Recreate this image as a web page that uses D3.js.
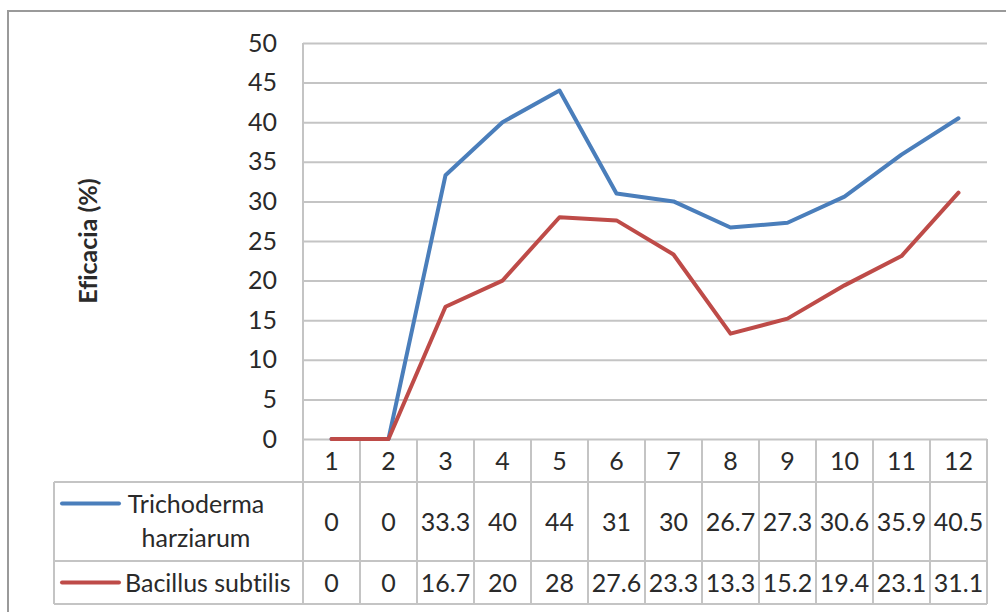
<!DOCTYPE html>
<html>
<head>
<meta charset="utf-8">
<script src="https://cdn.jsdelivr.net/npm/d3@7"></script>
<style>
  html, body { margin: 0; padding: 0; background: #fff; }
  svg { display: block; }
  text { font-family: Lato, "Open Sans", sans-serif; fill: #2a2a2a; font-variant-ligatures: none; }
</style>
</head>
<body>
<svg id="chart" width="1006" height="612"></svg>
<script>
// Months of observation and efficacy per treatment
const categories = ["1", "2", "3", "4", "5", "6", "7", "8", "9", "10", "11", "12"];
const trichoderma = [0, 0, 33.3, 40, 44, 31, 30, 26.7, 27.3, 30.6, 35.9, 40.5];
const bacillus = [0, 0, 16.7, 20, 28, 27.6, 23.3, 13.3, 15.2, 19.4, 23.1, 31.1];
const seriesNames = [["Trichoderma", "harziarum"], ["Bacillus subtilis"]];
const seriesColors = ["#4a7ebb", "#be4b48"];
const yTicks = [0, 5, 10, 15, 20, 25, 30, 35, 40, 45, 50];
const yLabel = "Eficacia (%)";

const svg = d3.select("#chart");
const gridColor = "#c4c4c4";
const fontSize = 25;

// Outer chart frame
svg.append("rect")
  .attr("x", 8).attr("y", 11).attr("width", 1020).attr("height", 640)
  .attr("fill", "none").attr("stroke", "#9a9a9a").attr("stroke-width", 2);

const plot = { left: 303, right: 987, top: 43, bottom: 439 };
const table = { left: 54, catRowBottom: 482, row1Bottom: 561, row2Bottom: 604 };

const x = d3.scaleBand().domain(categories).range([plot.left, plot.right]);
const y = d3.scaleLinear().domain([0, 50]).range([plot.bottom, plot.top]);

// Horizontal gridlines and value labels
const yAxis = svg.append("g")
  .attr("transform", `translate(${plot.left},0)`)
  .call(d3.axisLeft(y).tickValues(yTicks).tickSize(-(plot.right - plot.left)).tickPadding(26));
yAxis.select(".domain").remove();
yAxis.selectAll(".tick line").attr("stroke", gridColor).attr("stroke-width", 2);
yAxis.selectAll(".tick text")
  .attr("font-size", fontSize).attr("fill", "#2a2a2a")
  .style("font-family", "Lato, 'Open Sans', sans-serif");

// Y axis title
svg.append("text")
  .attr("transform", `translate(97,${(plot.top + plot.bottom) / 2}) rotate(-90)`)
  .attr("text-anchor", "middle")
  .attr("font-size", 25).attr("font-weight", "bold")
  .text(yLabel);

// Data table lines
const tableLines = svg.append("g").attr("stroke", gridColor).attr("stroke-width", 2);
// left axis line, running down through the table
tableLines.append("line")
  .attr("x1", plot.left).attr("x2", plot.left)
  .attr("y1", plot.top).attr("y2", table.row2Bottom);
// category separators
categories.forEach(c => {
  tableLines.append("line")
    .attr("x1", x(c) + x.bandwidth()).attr("x2", x(c) + x.bandwidth())
    .attr("y1", plot.bottom).attr("y2", table.row2Bottom);
});
// horizontal table rules
[table.catRowBottom, table.row1Bottom, table.row2Bottom].forEach(yy => {
  tableLines.append("line")
    .attr("x1", table.left).attr("x2", plot.right)
    .attr("y1", yy).attr("y2", yy);
});
tableLines.append("line")
  .attr("x1", table.left).attr("x2", table.left)
  .attr("y1", table.catRowBottom).attr("y2", table.row2Bottom);

// Category labels row
svg.append("g").selectAll("text").data(categories).join("text")
  .attr("x", d => x(d) + x.bandwidth() / 2)
  .attr("y", (plot.bottom + table.catRowBottom) / 2)
  .attr("dy", "0.36em")
  .attr("text-anchor", "middle")
  .attr("font-size", fontSize)
  .text(d => d);

// Value rows
const seriesData = [trichoderma, bacillus];
const rowCenters = [(table.catRowBottom + table.row1Bottom) / 2, (table.row1Bottom + table.row2Bottom) / 2];
seriesData.forEach((vals, i) => {
  svg.append("g").selectAll("text").data(vals).join("text")
    .attr("x", (d, j) => x(categories[j]) + x.bandwidth() / 2)
    .attr("y", rowCenters[i])
    .attr("dy", "0.36em")
    .attr("text-anchor", "middle")
    .attr("font-size", fontSize)
    .text(d => d);
});

// Legend keys inside the table
seriesNames.forEach((name, i) => {
  const cy = rowCenters[i] + (i === 0 ? -18 : 0);
  svg.append("line")
    .attr("x1", 62).attr("x2", 119)
    .attr("y1", cy).attr("y2", cy)
    .attr("stroke", seriesColors[i]).attr("stroke-width", 4).attr("stroke-linecap", "round");
  const tx = name.length > 1 ? 196 : 125;
  const t = svg.append("text")
    .attr("x", tx)
    .attr("text-anchor", name.length > 1 ? "middle" : "start")
    .attr("font-size", fontSize);
  name.forEach((ln, k) => {
    t.append("tspan")
      .attr("x", tx)
      .attr("y", cy + k * 34)
      .attr("dy", "0.36em")
      .text(ln);
  });
});

// Series lines
const line = d3.line()
  .x((d, j) => x(categories[j]) + x.bandwidth() / 2)
  .y(d => y(d));
seriesData.forEach((vals, i) => {
  svg.append("path")
    .datum(vals)
    .attr("d", line)
    .attr("fill", "none")
    .attr("stroke", seriesColors[i])
    .attr("stroke-width", 4)
    .attr("stroke-linejoin", "round")
    .attr("stroke-linecap", "round");
});
</script>
</body>
</html>
